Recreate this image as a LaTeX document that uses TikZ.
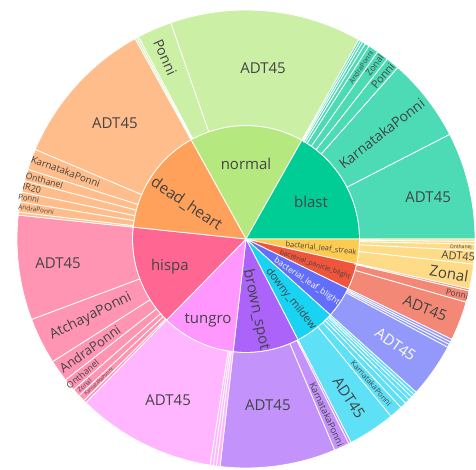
\documentclass[tikz,border=0pt]{standalone}
\usepackage{fontspec}
\setmainfont{Open Sans}
\definecolor{plblue}{RGB}{99,110,250}
\definecolor{plred}{RGB}{239,85,59}
\definecolor{plgreen}{RGB}{0,204,150}
\definecolor{plpurple}{RGB}{171,99,250}
\definecolor{plorange}{RGB}{255,161,90}
\definecolor{plcyan}{RGB}{25,211,243}
\definecolor{plpink}{RGB}{255,102,146}
\definecolor{pllime}{RGB}{182,232,128}
\definecolor{plmagenta}{RGB}{255,151,255}
\definecolor{plyellow}{RGB}{254,203,82}
\definecolor{plgray}{RGB}{68,68,68}
\newcommand{\rin}{113.5}
\newcommand{\rout}{229}
\tikzset{
    wedge/.style={draw=white, line width=0.8bp},
    lbl/.style={inner sep=0pt, text=#1},
    lbl/.default=plgray
}
\newcommand{\hub}[3]{\filldraw[wedge, fill=#3] (0,0) -- (#1:\rin) arc[start angle=#1, end angle=#2, radius=\rin] -- cycle;}
\newcommand{\petal}[3]{\filldraw[wedge, fill=#3!70!white] (#1:\rin) -- (#1:\rout) arc[start angle=#1, end angle=#2, radius=\rout] -- (#2:\rin) arc[start angle=#2, end angle=#1, radius=\rin] -- cycle;}

\begin{document}
\begin{tikzpicture}[x=1bp, y=1bp]
    \useasboundingbox (-246,-231) rectangle (230,239);
    \foreach \from/\to/\col in {60.5/119/pllime, 0/60.5/plgreen, -12.6/0/plyellow, -26/-12.6/plred,
        -42/-26/plblue, -62.7/-42/plcyan, -96.5/-62.7/plpurple, 225.6/263.5/plmagenta,
        174/225.6/plpink, 119/174/plorange}
        \hub{\from}{\to}{\col};
    \foreach \from/\to/\col in {
        60.5/109.2/pllime, 109.2/118/pllime, 118/118.5/pllime, 118.5/119/pllime,
        0/27.2/plgreen, 27.2/48.5/plgreen, 48.5/51.9/plgreen, 51.9/54.9/plgreen, 54.9/57.5/plgreen,
        57.5/58.6/plgreen, 58.6/59.4/plgreen, 59.4/60/plgreen, 60/60.5/plgreen,
        -12.6/-6.3/plyellow, -6.3/-2.9/plyellow, -2.9/-1.3/plyellow, -1.3/-0.6/plyellow, -0.6/0/plyellow,
        -26/-16/plred, -16/-13.1/plred, -13.1/-12.6/plred,
        -42/-28.2/plblue, -28.2/-27.4/plblue, -27.4/-26.7/plblue, -26.7/-26/plblue,
        -62.7/-50.7/plcyan, -50.7/-47.4/plcyan, -47.4/-45.8/plcyan, -45.8/-44.6/plcyan,
        -44.6/-43.6/plcyan, -43.6/-42.8/plcyan, -42.8/-42/plcyan,
        -96.5/-67.2/plpurple, -67.2/-63.3/plpurple, -63.3/-62.7/plpurple,
        225.6/261/plmagenta, 261/261.8/plmagenta, 261.8/262.6/plmagenta, 262.6/263.5/plmagenta,
        174/200.6/plpink, 200.6/212.4/plpink, 212.4/218/plpink, 218/221.2/plpink,
        221.2/223.2/plpink, 223.2/224.9/plpink, 224.9/225.6/plpink,
        119/157/plorange, 157/162.3/plorange, 162.3/165.3/plorange, 165.3/168.2/plorange,
        168.2/170.7/plorange, 170.7/173.3/plorange, 173.3/174/plorange}
        \petal{\from}{\to}{\col};
    \foreach \ang/\rad/\rot/\fs/\name/\tc [count=\n] in {
        90/75/0/15/normal/plgray, 29.9/75/0/15/blast/plgray,
        -7/75.5/-6.4/7.5/bacterial\_leaf\_streak/plgray,
        -20.6/73.7/-19.3/6.8/bacterial\_panicle\_blight/plgray,
        -35/74.2/-34/8.3/bacterial\_leaf\_blight/white,
        -53.3/74.8/-52/10.8/downy\_mildew/plgray,
        -82/71.7/-78/15/brown\_spot/plgray,
        244.9/89.5/0/15/tungro/plgray, 200/81/0/15/hispa/plgray,
        149.5/69/-34/15.5/dead\_heart/plgray}
        \node[lbl=\tc, rotate=\rot, font=\fontsize{\fs bp}{\fs bp}\selectfont] (cls\n) at (\ang:\rad) {\name};
    \foreach \ang/\rad/\rot/\fs/\name/\tc [count=\n] in {
        84.3/172/0/15/ADT45/plgray, 114/199/-66/14/Ponni/plgray,
        13/187/0/15/ADT45/plgray, 37.9/172/37.9/14/KarnatakaPonni/plgray,
        50/213/50/11/Ponni/plgray, 53.5/216/53.4/9/Zonal/plgray, 56.2/207/56.2/6.9/AndraPonni/plgray,
        138.5/175/0/15/ADT45/plgray, 159.5/192.5/-20.5/9.8/KarnatakaPonni/plgray,
        163.8/210/-16.2/8.8/Onthanel/plgray, 166.7/220/-13.3/9/IR20/plgray,
        169.4/221/-10.6/7.8/Ponni/plgray, 172/212/-8/6.5/AndraPonni/plgray,
        187.3/189.5/0/15/ADT45/plgray, 206.5/173.5/26.5/14/AtchayaPonni/plgray,
        215.2/191/35.2/13/AndraPonni/plgray, 219.6/212/39.6/9/Onthanel/plgray,
        222.2/218/42.2/6.4/Zonal/plgray, 224/205/44/5/KarnatakaPonni/plgray,
        244.2/179/0/15/ADT45/plgray,
        -82.5/167.5/0/15/ADT45/plgray, -65.3/193/-65.3/9.3/KarnatakaPonni/plgray,
        -57/189/-56.7/15/ADT45/plgray, -49/191/-49/7.7/KarnatakaPonni/plgray,
        -35.2/183/-35/15/ADT45/white,
        -21.1/192/-21/15/ADT45/plgray, -14.6/218/-14.5/8.4/Ponni/plgray,
        -9.6/206/-9.4/15/Zonal/plgray, -4.6/213/-4.6/11/ADT45/plgray, -2.1/215/-2.1/5/Onthanel/plgray}
        \node[lbl=\tc, rotate=\rot, font=\fontsize{\fs bp}{\fs bp}\selectfont] (var\n) at (\ang:\rad) {\name};
\end{tikzpicture}
\end{document}
